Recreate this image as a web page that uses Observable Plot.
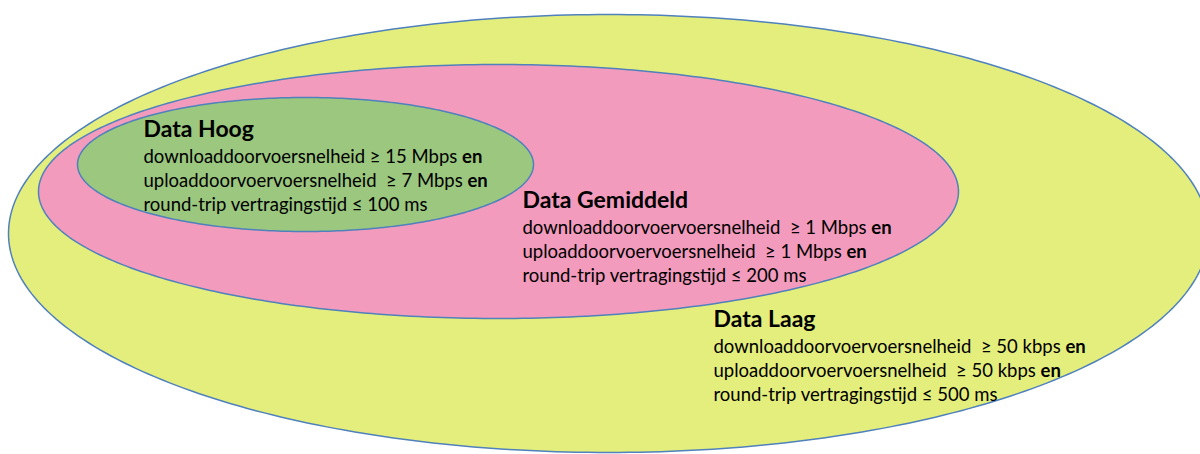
<!DOCTYPE html>
<html>
<head>
<meta charset="utf-8">
<script src="https://cdn.jsdelivr.net/npm/d3@7"></script>
<script src="https://cdn.jsdelivr.net/npm/@observablehq/plot@0.6"></script>
<style>
  html, body { margin: 0; padding: 0; background: white; overflow: hidden; }
  #chart svg { display: block; }
</style>
</head>
<body>
<div id="chart"></div>
<script>
// Tiers, drawn from the outermost to the innermost
const tiers = ["Data Laag", "Data Gemiddeld", "Data Hoog"];
// Ellipse extents (in the chart's own 1200 x 454 coordinate units)
const centerX = [608, 498, 305];
const centerY = [233, 191, 164];
const radiusX = [600, 460, 228];
const radiusY = [219, 127, 67];
const fills = ["#e4ee7c", "#f29bbc", "#9bc77f"];
// Criteria text per tier
const downloadText = [
  "downloaddoorvoervoersnelheid\u00a0 ≥ 50 kbps en",
  "downloaddoorvoervoersnelheid\u00a0 ≥ 1 Mbps en",
  "downloaddoorvoersnelheid\u00a0≥ 15 Mbps en"
];
const uploadText = [
  "uploaddoorvoervoersnelheid\u00a0 ≥ 50 kbps en",
  "uploaddoorvoervoersnelheid\u00a0 ≥ 1 Mbps en",
  "uploaddoorvoervoersnelheid\u00a0 ≥ 7 Mbps en"
];
const latencyText = [
  "round-trip vertragingstijd ≤ 500 ms",
  "round-trip vertragingstijd ≤ 200 ms",
  "round-trip vertragingstijd ≤ 100 ms"
];
// Label anchor (title baseline) per tier
const labelX = [713, 522, 143];
const labelY = [326, 207, 136];

// Build ellipse outlines from the extents
const outline = [];
tiers.forEach((t, i) => {
  for (let a = 0; a < 360; a += 1) {
    const r = a * Math.PI / 180;
    outline.push({tier: t, order: i, x: centerX[i] + radiusX[i] * Math.cos(r), y: centerY[i] + radiusY[i] * Math.sin(r)});
  }
});

const titles = tiers.map((t, i) => ({text: t, x: labelX[i], y: labelY[i]}));
const lines = [];
tiers.forEach((t, i) => {
  [downloadText[i], uploadText[i], latencyText[i]].forEach((s, k) => {
    lines.push({text: s, x: labelX[i], y: labelY[i] + 26 + 24 * k});
  });
});

const plot = Plot.plot({
  width: 1200,
  height: 454,
  margin: 0,
  style: {background: "white", fontFamily: "Lato, 'Open Sans', sans-serif"},
  x: {domain: [0, 1200], range: [0, 1200], axis: null},
  y: {domain: [0, 454], range: [0, 454], axis: null},
  color: {domain: tiers, range: fills},
  marks: [
    Plot.line(outline, {x: "x", y: "y", z: "tier", fill: "tier", stroke: "#4f81bd", strokeWidth: 1.5, curve: "linear-closed", clip: true}),
    Plot.text(titles, {x: "x", y: "y", text: "text", textAnchor: "start", lineAnchor: "bottom", fontSize: 23, fontWeight: "bold", fill: "#000"}),
    Plot.text(lines, {x: "x", y: "y", text: "text", textAnchor: "start", lineAnchor: "bottom", fontSize: 18.5, fill: "#000"})
  ]
});
document.getElementById("chart").appendChild(plot);

// Make the trailing "en" bold
d3.select(plot).selectAll("text").each(function() {
  const el = this;
  if (el.querySelector("tspan")) return;
  const s = el.textContent;
  if (s.endsWith(" en")) {
    el.textContent = s.slice(0, -2);
    const ts = document.createElementNS("http://www.w3.org/2000/svg", "tspan");
    ts.setAttribute("font-weight", "bold");
    ts.textContent = "en";
    el.appendChild(ts);
  }
});
</script>
</body>
</html>
